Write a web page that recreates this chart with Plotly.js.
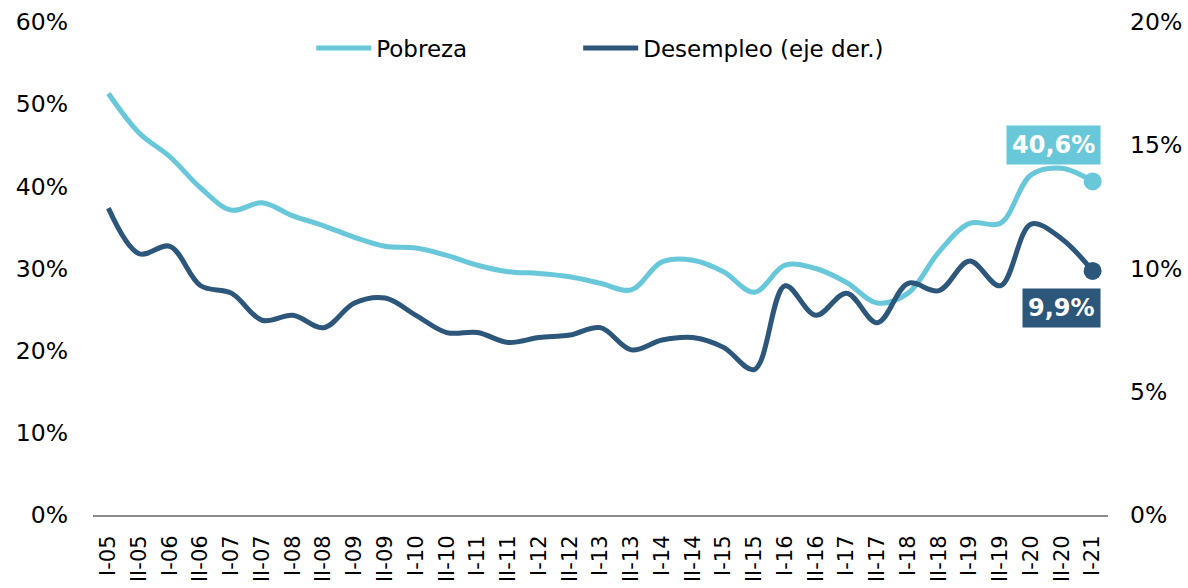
<!DOCTYPE html>
<html>
<head>
<meta charset="utf-8">
<script src="https://cdn.plot.ly/plotly-3.0.1.min.js"></script>
<style>html,body{margin:0;padding:0;background:#fff;}#chart{width:1188px;height:588px;}</style>
</head>
<body>
<div id="chart"></div>
<script>
const categories = ["I-05","II-05","I-06","II-06","I-07","II-07","I-08","II-08","I-09","II-09","I-10","II-10","I-11","II-11","I-12","II-12","I-13","II-13","I-14","II-14","I-15","II-15","I-16","II-16","I-17","II-17","I-18","II-18","I-19","II-19","I-20","II-20","I-21"];
const pobreza = [51.3,46.5,43.6,39.8,37.1,38.0,36.4,35.2,33.8,32.7,32.5,31.6,30.4,29.6,29.4,29.0,28.2,27.4,30.8,31.0,29.6,27.1,30.4,30.0,28.3,25.8,27.0,32.0,35.5,35.5,41.4,42.2,40.6];
const desempleo = [12.45,10.6,10.9,9.3,9.0,7.9,8.1,7.6,8.6,8.8,8.1,7.4,7.4,7.0,7.2,7.3,7.6,6.7,7.1,7.2,6.8,5.9,9.3,8.1,9.0,7.8,9.4,9.1,10.3,9.3,11.8,11.2,9.9];
const leftTicks = [0,10,20,30,40,50,60];
const leftTickText = ["0%","10%","20%","30%","40%","50%","60%"];
const rightTicks = [0,5,10,15,20];
const rightTickText = ["0%","5%","10%","15%","20%"];
const labelPobreza = "40,6%";
const labelDesempleo = "9,9%";

const cLight = "#68C8DA";
const cDark = "#2D567B";
const FONT = "DejaVu Sans, Verdana, sans-serif";
const last = categories.length - 1;

const traces = [
  {x: categories, y: pobreza, name: "Pobreza", type: "scatter", mode: "lines", legend: "legend",
   line: {color: cLight, width: 5, shape: "spline", smoothing: 1}, yaxis: "y"},
  {x: categories, y: desempleo, name: "Desempleo (eje der.)", type: "scatter", mode: "lines", legend: "legend2",
   line: {color: cDark, width: 5, shape: "spline", smoothing: 1}, yaxis: "y2"},
  {x: [categories[last]], y: [pobreza[last]], type: "scatter", mode: "markers", showlegend: false,
   marker: {color: cLight, size: 18}, yaxis: "y", hoverinfo: "skip"},
  {x: [categories[last]], y: [desempleo[last]], type: "scatter", mode: "markers", showlegend: false,
   marker: {color: cDark, size: 18}, yaxis: "y2", hoverinfo: "skip"}
];

const legendBase = {orientation: "h", xanchor: "left", y: 0.947, yanchor: "middle",
  font: {family: FONT, size: 23, color: "#000"}, bgcolor: "rgba(0,0,0,0)", itemwidth: 55};

const layout = {
  width: 1188, height: 588,
  margin: {l: 93, r: 80, t: 22, b: 73},
  paper_bgcolor: "#fff", plot_bgcolor: "#fff",
  font: {family: FONT, size: 22, color: "#000"},
  showlegend: true,
  legend: Object.assign({}, legendBase, {x: 0.215}),
  legend2: Object.assign({}, legendBase, {x: 0.478}),
  xaxis: {type: "category", range: [-0.5, categories.length - 0.5], showgrid: false, zeroline: false,
          showline: true, linecolor: "#8c8c8c", linewidth: 2, ticks: "", tickangle: -90,
          tickfont: {family: FONT, size: 21, color: "#000"}, ticklabelstandoff: 10},
  yaxis: {range: [0, 60], tickmode: "array", tickvals: leftTicks, ticktext: leftTickText, showgrid: false, zeroline: false,
          showline: false, ticks: "", tickfont: {family: FONT, size: 23.5, color: "#000"}, ticklabelstandoff: 24},
  yaxis2: {range: [0, 20], tickmode: "array", tickvals: rightTicks, ticktext: rightTickText, overlaying: "y", side: "right",
           showgrid: false, zeroline: false, showline: false, ticks: "",
           tickfont: {family: FONT, size: 23.5, color: "#000"}, ticklabelstandoff: 21},
  annotations: [
    {x: categories[last], y: 45, xref: "x", yref: "y", text: "<b>" + labelPobreza + "</b>", showarrow: false,
     xanchor: "right", yanchor: "middle", xshift: 8, bgcolor: cLight, borderpad: 5,
     font: {family: FONT, size: 24, color: "#fff"}},
    {x: categories[last], y: 8.4, xref: "x", yref: "y2", text: "<b>" + labelDesempleo + "</b>", showarrow: false,
     xanchor: "right", yanchor: "middle", xshift: 8, bgcolor: cDark, borderpad: 5,
     font: {family: FONT, size: 24, color: "#fff"}}
  ]
};

Plotly.newPlot("chart", traces, layout, {displayModeBar: false, staticPlot: true});
</script>
</body>
</html>
